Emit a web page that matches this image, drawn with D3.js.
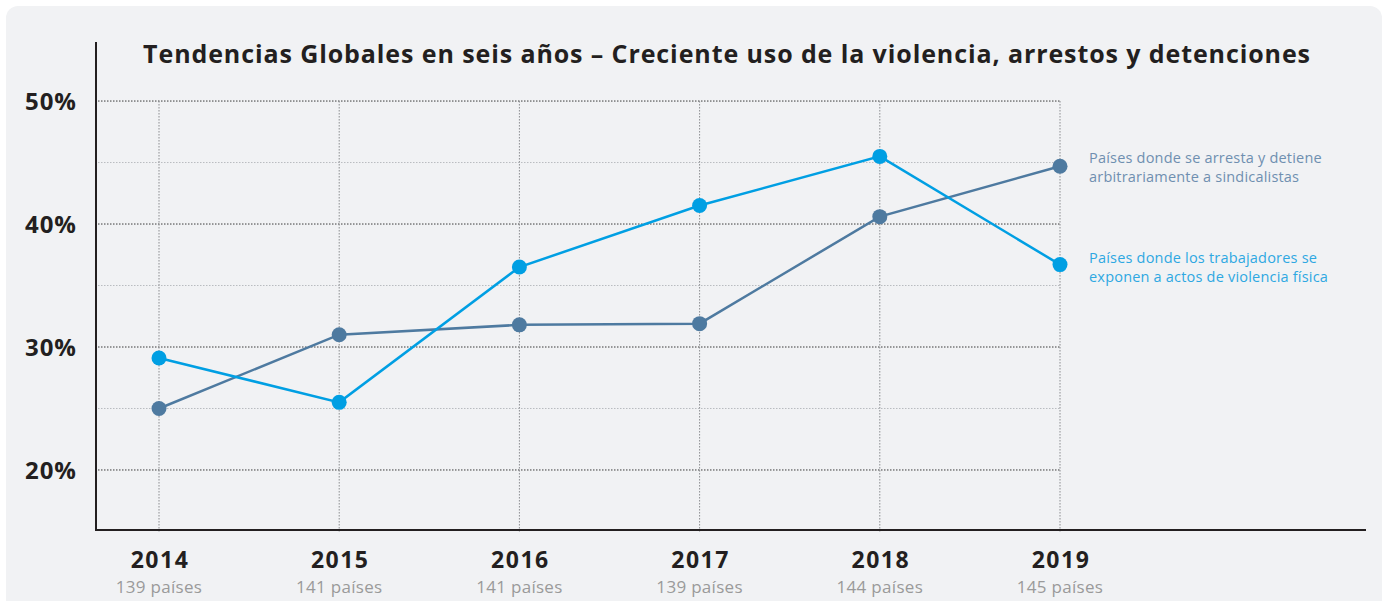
<!DOCTYPE html>
<html><head><meta charset="utf-8">
<script src="https://cdn.jsdelivr.net/npm/d3@7"></script>
<style>
html,body{margin:0;padding:0;background:#fff;}
svg{display:block;font-family:"Open Sans",Lato,sans-serif;}
</style></head>
<body>
<svg id="c" width="1384" height="601"></svg>
<script>
const years = ["2014","2015","2016","2017","2018","2019"];
const countries = ["139 países","141 países","141 países","139 países","144 países","145 países"];
const arrests = [25.0, 31.0, 31.8, 31.9, 40.6, 44.7];
const violence = [29.1, 25.5, 36.5, 41.5, 45.5, 36.7];
const majorTicks = [20, 30, 40, 50];
const minorTicks = [25, 35, 45];
const seriesNames = [
  ["Países donde se arresta y detiene", "arbitrariamente a sindicalistas"],
  ["Países donde los trabajadores se", "exponen a actos de violencia física"]
];
const title = "Tendencias Globales en seis años – Creciente uso de la violencia, arrestos y detenciones";

const svg = d3.select("#c");
svg.append("rect").attr("x",6).attr("y",6).attr("width",1376).attr("height",620).attr("rx",12).attr("fill","#f1f2f4");

const x = d3.scalePoint().domain(years).range([159,1060]);
const y = d3.scaleLinear().domain([15.12, 54.8]).range([530, 42]);

// minor gridlines
svg.append("g").selectAll("line").data(minorTicks).join("line")
  .attr("x1",98).attr("x2",1060).attr("y1",d=>y(d)).attr("y2",d=>y(d))
  .attr("stroke","#b9bcc0").attr("stroke-width",1).attr("stroke-dasharray","1.5,1.5");
// major gridlines
svg.append("g").selectAll("line").data(majorTicks).join("line")
  .attr("x1",98).attr("x2",1060).attr("y1",d=>y(d)).attr("y2",d=>y(d))
  .attr("stroke","#3a3a3a").attr("stroke-width",1).attr("stroke-dasharray","1.5,1.5");
// vertical gridlines
svg.append("g").selectAll("line").data(years).join("line")
  .attr("x1",d=>x(d)).attr("x2",d=>x(d)).attr("y1",y(50)).attr("y2",532)
  .attr("stroke","#8a8c8f").attr("stroke-width",1).attr("stroke-dasharray","1.5,1.5");

// axes lines
svg.append("line").attr("x1",96).attr("x2",96).attr("y1",42).attr("y2",531).attr("stroke","#231f20").attr("stroke-width",2);
svg.append("line").attr("x1",95).attr("x2",1366).attr("y1",530).attr("y2",530).attr("stroke","#231f20").attr("stroke-width",2);

// y tick labels
svg.append("g").selectAll("text").data(majorTicks).join("text")
  .attr("x",77).attr("y",d=>y(d)).attr("dy","0.36em").attr("text-anchor","end")
  .attr("font-size",24).attr("font-weight",700).attr("letter-spacing",1).attr("fill","#231f20")
  .text(d=>d+"%");

// x labels
const xl = svg.append("g");
xl.selectAll("text.yr").data(years).join("text").attr("class","yr")
  .attr("x",d=>x(d)+1).attr("y",568).attr("text-anchor","middle")
  .attr("font-size",23).attr("font-weight",700).attr("letter-spacing",1.5).attr("fill","#231f20").text(d=>d);
xl.selectAll("text.ct").data(years).join("text").attr("class","ct")
  .attr("x",d=>x(d)).attr("y",593).attr("text-anchor","middle")
  .attr("font-size",17).attr("letter-spacing",0.3).attr("fill","#9a9a9a").text((d,i)=>countries[i]);

// title
svg.append("text").attr("x",727).attr("y",63).attr("text-anchor","middle")
  .attr("font-size",25).attr("font-weight",700).attr("letter-spacing",0.9).attr("fill","#231f20").text(title);

// lines
const line = d3.line().x((d,i)=>x(years[i])).y(d=>y(d));
const series = [{v:arrests,c:"#4e7aa0"},{v:violence,c:"#009fe3"}];
series.forEach(s=>{
  svg.append("path").attr("d",line(s.v)).attr("fill","none").attr("stroke",s.c).attr("stroke-width",2.5);
});
series.forEach(s=>{
  svg.append("g").selectAll("circle").data(s.v).join("circle")
    .attr("cx",(d,i)=>x(years[i])).attr("cy",d=>y(d)).attr("r",7.5).attr("fill",s.c);
});

// legend labels
const legendColors = ["#6f8fb0","#2ea8e2"];
const legendY = [163, 263];
seriesNames.forEach((lines,k)=>{
  const t = svg.append("text").attr("x",1089).attr("y",legendY[k]).attr("font-size",14.5).attr("letter-spacing",0.2).attr("fill",legendColors[k]);
  lines.forEach((l,j)=>t.append("tspan").attr("x",1089).attr("dy",j?19:0).text(l));
});
</script>
</body></html>
